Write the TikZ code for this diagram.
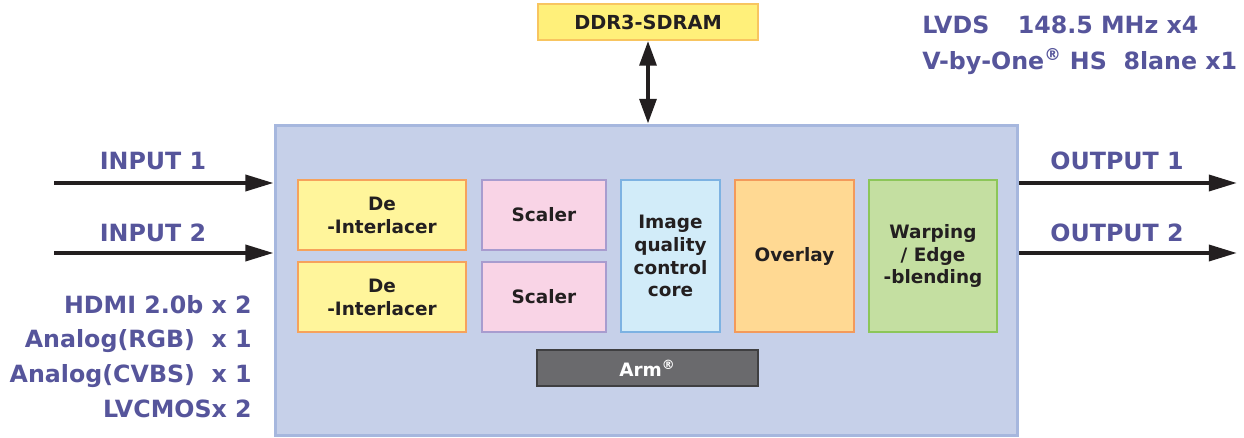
\documentclass[tikz,border=0pt]{standalone}
\usepackage{fontspec}
\setmainfont{DejaVu Sans}
\usepackage{xcolor}
\usetikzlibrary{arrows.meta}

\definecolor{txtblue}{RGB}{86,85,155}
\definecolor{socfill}{RGB}{198,208,233}
\definecolor{socedge}{RGB}{166,183,222}
\definecolor{ddrfill}{RGB}{255,240,122}
\definecolor{ddredge}{RGB}{248,197,96}
\definecolor{deifill}{RGB}{255,245,155}
\definecolor{deiedge}{RGB}{246,162,92}
\definecolor{sclfill}{RGB}{249,212,230}
\definecolor{scledge}{RGB}{168,156,207}
\definecolor{iqfill}{RGB}{210,236,249}
\definecolor{iqedge}{RGB}{125,178,226}
\definecolor{ovlfill}{RGB}{255,217,147}
\definecolor{ovledge}{RGB}{243,154,91}
\definecolor{wrpfill}{RGB}{196,223,161}
\definecolor{wrpedge}{RGB}{140,198,89}
\definecolor{armfill}{RGB}{106,106,109}
\definecolor{armedge}{RGB}{63,63,65}
\definecolor{ink}{RGB}{35,31,32}

\tikzset{
  blk/.style={draw, line width=1.1pt, inner sep=0pt, align=center, text=ink,
    font=\bfseries\fontsize{10.5}{13}\selectfont},
  lbl/.style={text=txtblue, inner sep=0pt, font=\bfseries\fontsize{13.5}{19.8}\selectfont},
  sig/.style={draw=ink, line width=2.3pt, -{Triangle[length=16pt,width=9pt]}},
}

\begin{document}
\begin{tikzpicture}[x=0.02cm, y=-0.02cm]
\useasboundingbox (0,0) rectangle (1244,438);
%% chip and memory
\node[draw=socedge, fill=socfill, line width=1.7pt, minimum width=14.86cm, minimum height=6.22cm] (soc) at (646.5,280.5) {};
\node[blk, draw=ddredge, fill=ddrfill, minimum width=4.4cm, minimum height=0.72cm, font=\bfseries\fontsize{11}{13}\selectfont] (ddr) at (648,22) {DDR3-SDRAM};
\draw[draw=ink, line width=2.2pt, {Triangle[length=14pt,width=9.5pt]}-{Triangle[length=14pt,width=9.5pt]}] (ddr.south) -- (ddr.south |- soc.north);
%% blocks
\node[blk, draw=deiedge, fill=deifill, minimum width=3.36cm, minimum height=1.4cm] (deiA) at (382,215) {De\\-Interlacer};
\node[blk, draw=deiedge, fill=deifill, minimum width=3.36cm, minimum height=1.4cm] (deiB) at (382,297) {De\\-Interlacer};
\node[blk, draw=scledge, fill=sclfill, minimum width=2.48cm, minimum height=1.4cm] (sclA) at (544,215) {Scaler};
\node[blk, draw=scledge, fill=sclfill, minimum width=2.48cm, minimum height=1.4cm] (sclB) at (544,297) {Scaler};
\node[blk, draw=iqedge, fill=iqfill, minimum width=1.98cm, minimum height=3.04cm] (iq) at (670.5,256) {Image\\quality\\control\\core};
\node[blk, draw=ovledge, fill=ovlfill, minimum width=2.38cm, minimum height=3.04cm] (ovl) at (794.5,256) {Overlay};
\node[blk, draw=wrpedge, fill=wrpfill, minimum width=2.56cm, minimum height=3.04cm] (wrp) at (933,256) {Warping\\/ Edge\\-blending};
\node[blk, draw=armedge, fill=armfill, text=white, minimum width=4.42cm, minimum height=0.72cm] (arm) at (647.5,368) {Arm\textsuperscript{®}};
%% inputs
\coordinate (inA) at (54,183);
\coordinate (inB) at (54,253);
\draw[sig] (inA) -- (inA -| soc.west);
\draw[sig] (inB) -- (inB -| soc.west);
\node[lbl, anchor=base] (inAlbl) at (153,170) {INPUT 1};
\node[lbl, anchor=base] (inBlbl) at (153,242) {INPUT 2};
%% outputs
\coordinate (outA) at (1237,183);
\coordinate (outB) at (1237,253);
\draw[sig] (outA -| soc.east) -- (outA);
\draw[sig] (outB -| soc.east) -- (outB);
\node[lbl, anchor=base] (outAlbl) at (1117,170) {OUTPUT 1};
\node[lbl, anchor=base] (outBlbl) at (1117,242) {OUTPUT 2};
%% interfaces
\foreach \y/\txt in {314/HDMI 2.0b x 2, 348/Analog(RGB)\hspace{0.7em}x 1, 383/Analog(CVBS)\hspace{0.7em}x 1, 418/LVCMOSx 2}
  \node[lbl, anchor=base east] at (252,\y) {\txt};
\node[lbl, anchor=base west] (lvds) at (922,34) {LVDS\hspace{1.2em}148.5 MHz x4};
\node[lbl, anchor=base west] (vbo) at (922,70) {V-by-One\textsuperscript{®} HS\hspace{0.7em}8lane x1};
\end{tikzpicture}
\end{document}
